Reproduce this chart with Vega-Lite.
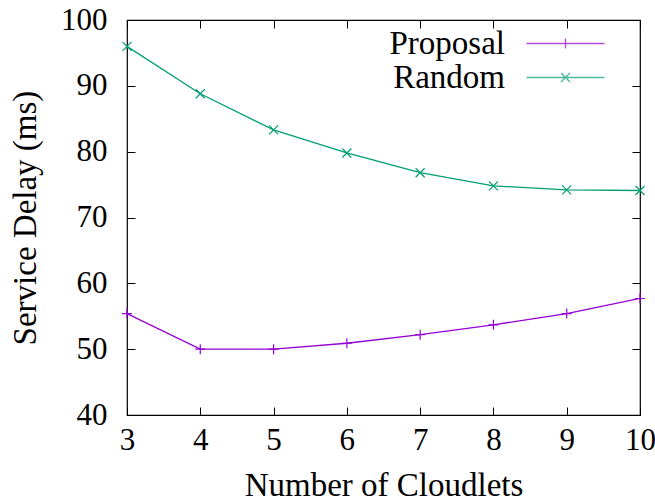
{
  "$schema": "https://vega.github.io/schema/vega-lite/v6.json",
  "width": 513,
  "height": 395,
  "autosize": {"type": "none"},
  "padding": {"left": 127, "top": 20, "right": 15, "bottom": 89},
  "background": "white",
  "config": {
    "view": {"stroke": "black", "strokeWidth": 1.2},
    "font": "Liberation Serif",
    "axis": {
      "grid": false,
      "domain": false,
      "tickColor": "black",
      "tickSize": -8,
      "tickWidth": 1,
      "labelFont": "Liberation Serif",
      "labelFontSize": 31,
      "labelColor": "black",
      "titleFont": "Liberation Serif",
      "titleFontSize": 33,
      "titleFontWeight": "normal",
      "titleColor": "black"
    },
    "legend": {
      "title": null,
      "orient": "none",
      "legendX": 422,
      "legendY": 7,
      "padding": 0,
      "labelFont": "Liberation Serif",
      "labelFontSize": 33,
      "labelColor": "black",
      "labelAlign": "right",
      "labelOffset": -77,
      "rowPadding": -5,
      "symbolStrokeWidth": 1.3,
      "symbolSize": 400
    }
  },
  "data": {
    "values": [
      {"cloudlets": 3, "delay": 55.4, "series": "Proposal"},
      {"cloudlets": 4, "delay": 50.0, "series": "Proposal"},
      {"cloudlets": 5, "delay": 50.0, "series": "Proposal"},
      {"cloudlets": 6, "delay": 50.9, "series": "Proposal"},
      {"cloudlets": 7, "delay": 52.2, "series": "Proposal"},
      {"cloudlets": 8, "delay": 53.7, "series": "Proposal"},
      {"cloudlets": 9, "delay": 55.4, "series": "Proposal"},
      {"cloudlets": 10, "delay": 57.7, "series": "Proposal"},
      {"cloudlets": 3, "delay": 96.0, "series": "Random"},
      {"cloudlets": 4, "delay": 88.8, "series": "Random"},
      {"cloudlets": 5, "delay": 83.3, "series": "Random"},
      {"cloudlets": 6, "delay": 79.8, "series": "Random"},
      {"cloudlets": 7, "delay": 76.8, "series": "Random"},
      {"cloudlets": 8, "delay": 74.8, "series": "Random"},
      {"cloudlets": 9, "delay": 74.2, "series": "Random"},
      {"cloudlets": 10, "delay": 74.1, "series": "Random"}
    ]
  },
  "layer": [
    {
      "mark": {"type": "line", "strokeWidth": 1.3},
      "encoding": {
        "x": {
          "field": "cloudlets", "type": "quantitative",
          "scale": {"domain": [3, 10], "nice": false},
          "axis": {"orient": "bottom", "values": [3, 4, 5, 6, 7, 8, 9, 10], "title": "Number of Cloudlets", "labelPadding": 18, "titlePadding": 14, "labelFlush": false}
        },
        "y": {
          "field": "delay", "type": "quantitative",
          "scale": {"domain": [40, 100], "nice": false, "zero": false},
          "axis": {"orient": "left", "values": [40, 50, 60, 70, 80, 90, 100], "title": "Service Delay (ms)", "labelPadding": 28, "titlePadding": 18, "labelFlush": false}
        },
        "color": {
          "field": "series", "type": "nominal",
          "scale": {"domain": ["Proposal", "Random"], "range": ["#9400d3", "#009e73"]}
        }
      }
    },
    {
      "transform": [{"filter": "datum.series === 'Proposal'"}],
      "mark": {"type": "point", "shape": "M-1,0L1,0M0,-1L0,1", "color": "#9400d3", "filled": false, "strokeWidth": 1.2, "size": 100, "opacity": 1},
      "encoding": {
        "x": {
          "field": "cloudlets", "type": "quantitative",
          "axis": {"orient": "top", "values": [3, 4, 5, 6, 7, 8, 9, 10], "labels": false, "title": null}
        },
        "y": {
          "field": "delay", "type": "quantitative",
          "axis": {"orient": "right", "values": [40, 50, 60, 70, 80, 90, 100], "labels": false, "title": null}
        }
      }
    },
    {
      "transform": [{"filter": "datum.series === 'Random'"}],
      "mark": {"type": "point", "shape": "M-0.9,-0.9L0.9,0.9M-0.9,0.9L0.9,-0.9", "color": "#009e73", "filled": false, "strokeWidth": 1.2, "size": 100, "opacity": 1},
      "encoding": {
        "x": {"field": "cloudlets", "type": "quantitative", "axis": null},
        "y": {"field": "delay", "type": "quantitative", "axis": null}
      }
    },
    {
      "transform": [{"filter": "false"}],
      "mark": {"type": "point", "filled": false, "strokeWidth": 1.3},
      "encoding": {
        "x": {"field": "cloudlets", "type": "quantitative", "axis": null},
        "y": {"field": "delay", "type": "quantitative", "axis": null},
        "color": {"field": "series", "type": "nominal"},
        "shape": {
          "field": "series", "type": "nominal",
          "scale": {"domain": ["Proposal", "Random"], "range": ["M-3.9,0L3.9,0M0,-0.5L0,0.5", "M-3.9,0L3.9,0M-0.45,-0.45L0.45,0.45M-0.45,0.45L0.45,-0.45"]}
        }
      }
    }
  ],
  "resolve": {"axis": {"x": "independent", "y": "independent"}}
}
